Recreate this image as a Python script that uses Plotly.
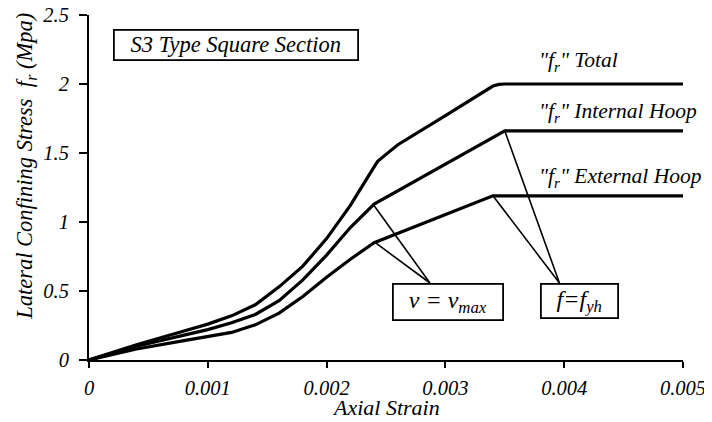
import plotly.graph_objects as go

# ---- data ----
strain_total = [0, 0.0004, 0.0008, 0.001, 0.0012, 0.0014, 0.0016, 0.0018, 0.002, 0.0022, 0.0024,
                0.00243, 0.0025, 0.0026, 0.003, 0.00335, 0.0034, 0.00345, 0.0035, 0.005]
fr_total = [0, 0.11, 0.21, 0.26, 0.32, 0.40, 0.53, 0.68, 0.88, 1.12, 1.40,
            1.44, 1.49, 1.56, 1.77, 1.96, 1.985, 1.997, 2.0, 2.0]

strain_internal = [0, 0.0004, 0.0008, 0.001, 0.0012, 0.0014, 0.0016, 0.0018, 0.002, 0.0022, 0.0024,
                   0.0035, 0.005]
fr_internal = [0, 0.10, 0.18, 0.22, 0.27, 0.33, 0.43, 0.58, 0.76, 0.96, 1.13,
               1.66, 1.66]

strain_external = [0, 0.0004, 0.0008, 0.001, 0.0012, 0.0014, 0.0016, 0.0018, 0.002, 0.0022, 0.0024,
                   0.0034, 0.005]
fr_external = [0, 0.08, 0.14, 0.17, 0.20, 0.255, 0.34, 0.46, 0.60, 0.73, 0.85,
               1.19, 1.19]

# pointer lines: (point on curve) -> (label box) -> (point on curve)
vmax_pointer_x = [0.00239, 0.00287, 0.00241]
vmax_pointer_y = [1.13, 0.558, 0.85]
fyh_pointer_x = [0.0035, 0.00396, 0.0034]
fyh_pointer_y = [1.66, 0.558, 1.19]

x_ticks = [0, 0.001, 0.002, 0.003, 0.004, 0.005]
x_tick_labels = ["0", "0.001", "0.002", "0.003", "0.004", "0.005"]
y_ticks = [0, 0.5, 1, 1.5, 2, 2.5]
y_tick_labels = ["0", "0.5", "1", "1.5", "2", "2.5"]

FONT = "Liberation Serif"


def tf(size):
    return dict(family=FONT, size=size, color="black", style="italic")


fig = go.Figure()
for xs, ys in [(strain_total, fr_total), (strain_internal, fr_internal), (strain_external, fr_external)]:
    fig.add_trace(go.Scatter(x=xs, y=ys, mode="lines",
                             line=dict(color="black", width=3.2), showlegend=False, hoverinfo="skip"))
for xs, ys in [(vmax_pointer_x, vmax_pointer_y), (fyh_pointer_x, fyh_pointer_y)]:
    fig.add_trace(go.Scatter(x=xs, y=ys, mode="lines",
                             line=dict(color="black", width=1.6), showlegend=False, hoverinfo="skip"))

# curve labels
for y, txt in [(2.16, '"<i>f<sub>r</sub></i>" Total'),
               (1.79, '"<i>f<sub>r</sub></i>" Internal Hoop'),
               (1.32, '"<i>f<sub>r</sub></i>" External Hoop')]:
    fig.add_annotation(xref="x", yref="y", x=0.00377, y=y, text=txt, xanchor="left", yanchor="middle",
                       showarrow=False, font=tf(21.5))

# boxed labels
fig.add_annotation(xref="x", yref="y", x=0.001235, y=2.28, text="S3 Type Square Section",
                   showarrow=False, font=tf(22.5),
                   bordercolor="black", borderwidth=1.8, width=240, height=26, bgcolor="white")
fig.add_annotation(xref="x", yref="y", x=0.003025, y=0.417, text="ν = ν<sub>max</sub>",
                   showarrow=False, font=tf(24),
                   bordercolor="black", borderwidth=1.8, width=106, height=32, bgcolor="white")
fig.add_annotation(xref="x", yref="y", x=0.00413, y=0.424, text="f=f<sub>yh</sub>",
                   showarrow=False, font=tf(24),
                   bordercolor="black", borderwidth=1.8, width=73, height=30, bgcolor="white")

# axis titles
fig.add_annotation(xref="paper", yref="paper", x=0.5, y=-0.139, text="Axial Strain",
                   showarrow=False, font=tf(22), xanchor="center", yanchor="middle")
fig.add_annotation(xref="paper", yref="paper", x=-0.106, y=0.56,
                   text="Lateral Confining Stress  <i>f<sub>r</sub></i> (Mpa)",
                   showarrow=False, font=tf(22.5), textangle=-90, xanchor="center", yanchor="middle")

# the page body has an 8px margin: the figure is sized and padded to compensate
fig.update_layout(
    width=704, height=414,
    margin=dict(l=81, r=29, t=7, b=62),
    paper_bgcolor="white", plot_bgcolor="white",
    font=dict(family=FONT),
    xaxis=dict(range=[0, 0.005], tickvals=x_ticks, ticktext=x_tick_labels, automargin=False,
               showgrid=False, zeroline=False, showline=True, linecolor="black", linewidth=2,
               ticks="outside", ticklen=6, tickwidth=2, tickcolor="black", tickfont=tf(20.5),
               ticklabelstandoff=2, ticklabeloverflow="allow"),
    yaxis=dict(range=[0, 2.5], tickvals=y_ticks, ticktext=y_tick_labels, automargin=False,
               showgrid=False, zeroline=False, showline=True, linecolor="black", linewidth=2,
               ticks="outside", ticklen=8, tickwidth=2, tickcolor="black", tickfont=tf(20.5),
               ticklabelstandoff=6, ticklabeloverflow="allow"),
)

fig.write_html("out.html")
